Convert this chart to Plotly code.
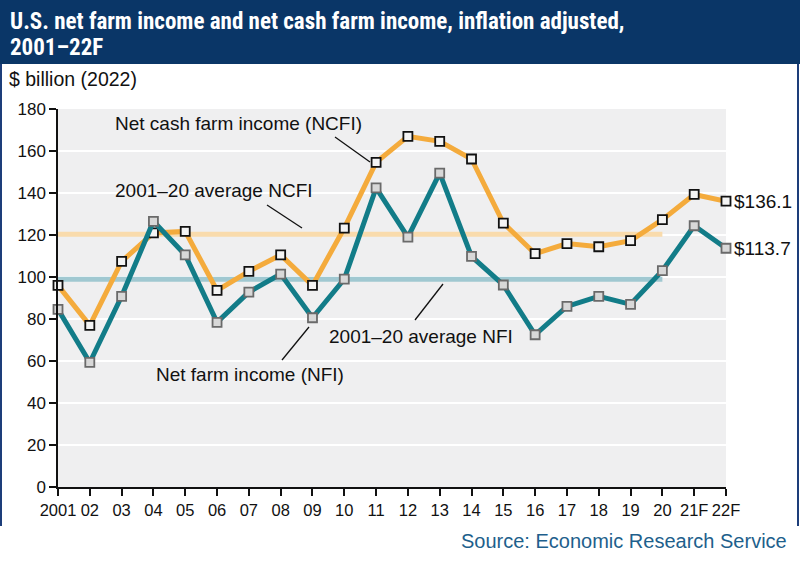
import plotly.graph_objects as go

W, H = 800, 565

years = list(range(2001, 2023))
tick_text = ["2001", "02", "03", "04", "05", "06", "07", "08", "09", "10", "11",
             "12", "13", "14", "15", "16", "17", "18", "19", "20", "21F", "22F"]

ncfi = [96.0, 77.0, 107.4, 121.0, 121.7, 93.6, 102.7, 110.5, 96.0, 123.3, 154.6,
        167.0, 164.6, 156.2, 125.7, 111.1, 115.9, 114.4, 117.3, 127.3, 139.3, 136.1]
nfi = [84.6, 59.3, 90.8, 126.5, 110.5, 78.4, 92.8, 101.4, 80.6, 99.0, 142.4,
       119.0, 149.5, 109.8, 96.2, 72.5, 86.0, 90.8, 87.0, 103.0, 124.4, 113.7]

avg_years = [2001, 2020]
ncfi_avg = 120.4
nfi_avg = 98.9

end_labels = ["$136.1", "$113.7"]

ORANGE = "#F4AB3C"
TEAL = "#127C88"
ORANGE_L = "#F9DBAC"
TEAL_L = "#A0C8D1"
NAVY = "#0A3667"
FONT = "Liberation Sans, Arial, sans-serif"
NARROW = "Liberation Sans Narrow, Arial Narrow, Roboto Condensed, sans-serif"

# plot area in pixels
PL, PR, PT, PB = 58, 726, 109, 487


def px(x):
    return x / W


def py(y):
    return 1 - y / H


fig = go.Figure()

fig.add_trace(go.Scatter(x=avg_years, y=[ncfi_avg] * 2, mode="lines",
                         line=dict(color=ORANGE_L, width=5), hoverinfo="skip"))
fig.add_trace(go.Scatter(x=avg_years, y=[nfi_avg] * 2, mode="lines",
                         line=dict(color=TEAL_L, width=5), hoverinfo="skip"))
fig.add_trace(go.Scatter(x=years, y=ncfi, mode="lines+markers", cliponaxis=False,
                         line=dict(color=ORANGE, width=5),
                         marker=dict(symbol="square", size=9, color="#F4F4F4",
                                     line=dict(color="#111111", width=1.8))))
fig.add_trace(go.Scatter(x=years, y=nfi, mode="lines+markers", cliponaxis=False,
                         line=dict(color=TEAL, width=5),
                         marker=dict(symbol="square", size=9, color="#D8D8D8",
                                     line=dict(color="#6A6A6A", width=1.8))))

shapes = []
# header
shapes.append(dict(type="rect", xref="paper", yref="paper", x0=0, x1=1,
                   y0=py(64), y1=1, fillcolor=NAVY, line=dict(width=0), layer="below"))
# side borders
for xb in (1, 798):
    shapes.append(dict(type="line", xref="paper", yref="paper", x0=px(xb), x1=px(xb),
                       y0=py(64), y1=py(526), line=dict(color="#1D3E7A", width=2)))
# leader lines
for (x0, y0, x1, y1) in [(335, 137, 370, 162), (267, 205, 302, 228),
                         (282, 360, 309, 327), (443, 284, 415, 320)]:
    shapes.append(dict(type="line", xref="paper", yref="paper", x0=px(x0), y0=py(y0),
                       x1=px(x1), y1=py(y1), line=dict(color="#111111", width=1.3)))

annotations = []
annotations.append(dict(xref="paper", yref="paper", x=px(8), y=py(21), xanchor="left",
                        yanchor="middle", showarrow=False, align="left",
                        text="<b>U.S. net farm income and net cash farm income, inflation adjusted,</b>",
                        font=dict(family=NARROW, size=23, color="white")))
annotations.append(dict(xref="paper", yref="paper", x=px(8), y=py(47), xanchor="left",
                        yanchor="middle", showarrow=False, align="left",
                        text="<b>2001–22F</b>",
                        font=dict(family=NARROW, size=23, color="white")))
annotations.append(dict(xref="paper", yref="paper", x=px(7), y=py(79), xanchor="left",
                        yanchor="middle", showarrow=False, text="$ billion (2022)",
                        font=dict(family=FONT, size=19.5, color="#111111")))
for txt, cx, cy in [("Net cash farm income (NCFI)", 238, 124),
                    ("2001–20 average NCFI", 214, 190),
                    ("Net farm income (NFI)", 250, 374),
                    ("2001–20 average NFI", 421, 336)]:
    annotations.append(dict(xref="paper", yref="paper", x=px(cx), y=py(cy),
                            xanchor="center", yanchor="middle", showarrow=False, text=txt,
                            font=dict(family=FONT, size=19, color="#111111")))
for txt, val in zip(end_labels, [ncfi[-1], nfi[-1]]):
    annotations.append(dict(xref="x", yref="y", x=years[-1], y=val, xanchor="left",
                            yanchor="middle", xshift=6, showarrow=False, text=txt,
                            font=dict(family=FONT, size=19, color="#111111")))
annotations.append(dict(xref="paper", yref="paper", x=px(789), y=py(541), xanchor="right",
                        yanchor="middle", showarrow=False,
                        text="Source: Economic Research Service",
                        font=dict(family=FONT, size=20, color="#1E5F8C")))

fig.update_layout(
    width=W, height=H,
    margin=dict(l=0, r=0, t=0, b=0),
    paper_bgcolor="white",
    plot_bgcolor="#EFEFF0",
    showlegend=False,
    shapes=shapes,
    annotations=annotations,
    xaxis=dict(domain=[px(PL), px(PR)], range=[2001, 2022], tickvals=years,
               ticktext=tick_text, showgrid=False, zeroline=False,
               showline=True, linecolor="#111111", linewidth=1.5,
               ticks="outside", ticklen=7, tickcolor="#111111", tickwidth=1.5,
               tickfont=dict(family=FONT, size=16.5, color="#111111"), automargin=False),
    yaxis=dict(domain=[py(PB), py(PT)], range=[0, 180], tickvals=list(range(0, 181, 20)),
               showgrid=True, gridcolor="white", gridwidth=2, zeroline=False,
               showline=True, linecolor="#111111", linewidth=1.5,
               ticks="outside", ticklen=7, tickcolor="#111111", tickwidth=1.5,
               tickfont=dict(family=FONT, size=17, color="#111111"), automargin=False),
)

fig.write_html("out.html")
